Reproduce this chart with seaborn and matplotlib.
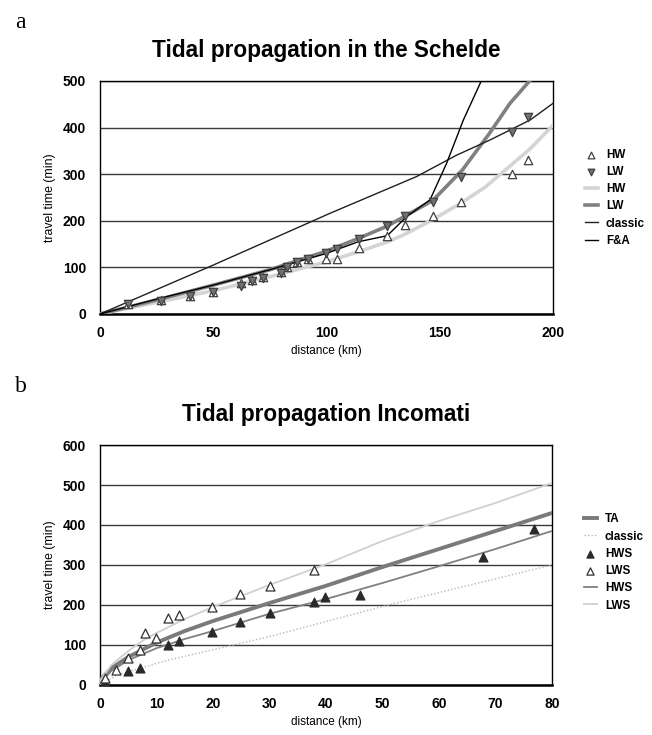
import matplotlib
matplotlib.use("Agg")
import matplotlib.pyplot as plt
import seaborn as sns
import pandas as pd

# ---------------- Panel a: Schelde ----------------
a_obs_km = [12.5, 26.9, 39.7, 49.7, 62.3, 67.3, 71.8, 79.8, 82.4, 86.8, 91.7,
            99.6, 104.5, 114.4, 126.7, 134.7, 146.9, 159.4, 181.7, 189.1]
a_hw_obs = [22, 30, 38, 48, 66, 74, 79, 90, 100, 112, 119,
            119, 119, 141, 168, 191, 211, 240, 300, 330]
a_lw_obs = [22, 28, 38, 48, 60, 70, 78, 88, 100, 112, 119,
            130, 140, 162, 188, 211, 241, 293, 391, 422]

a_hw_line_km = [0, 25, 50, 75, 100, 115, 127, 135, 146, 159, 170, 178, 190, 200]
a_hw_line_tt = [0, 25, 50, 80, 112, 135, 155, 172, 200, 237, 272, 305, 355, 405]

a_lw_line_km = [0, 25, 50, 75, 100, 114, 127, 135, 147, 160, 172, 181, 190, 195]
a_lw_line_tt = [0, 30, 62, 95, 135, 162, 189, 211, 244, 309, 388, 452, 502, 540]

a_classic_km = [0, 50, 101.5, 139.8, 157.5, 172, 189.8, 200]
a_classic_tt = [0, 105, 216, 295, 341, 373, 416, 452]

a_fa_km = [0, 25, 50, 75, 100, 114, 126.8, 135.4, 145.7, 153, 160.4, 168.5, 172]
a_fa_tt = [0, 32, 62, 95, 130, 155, 168, 209, 245, 323, 416, 502, 540]

# ---------------- Panel b: Incomati ----------------
b_hws_km = [0.9, 4.9, 7.1, 12, 14, 19.9, 24.8, 30, 37.9, 39.9, 46, 67.7, 76.8]
b_hws_tt = [8, 36, 42, 100, 110, 133, 158, 179, 208, 219, 226, 321, 390]

b_lws_km = [0.9, 2.9, 5, 7.1, 8, 9.9, 12, 14, 19.9, 24.8, 30, 37.9]
b_lws_tt = [18, 37, 67, 87, 131, 117, 168, 175, 196, 227, 248, 288]

b_ta_km = [0, 2, 5, 10, 15, 20, 30, 40, 50, 60, 70, 80]
b_ta_tt = [12, 42, 70, 106, 135, 160, 205, 248, 295, 340, 385, 430]

b_hws_line_km = [0, 2, 5, 10, 15, 20, 30, 40, 50, 60, 70, 80]
b_hws_line_tt = [5, 35, 62, 92, 115, 135, 178, 215, 255, 297, 340, 385]

b_lws_line_km = [0, 2, 5, 8, 10, 15, 20, 30, 40, 50, 60, 70, 80]
b_lws_line_tt = [10, 50, 85, 115, 130, 165, 195, 250, 302, 360, 410, 455, 505]

b_classic_km = [0, 3, 12, 30, 51, 80]
b_classic_tt = [0, 25, 62, 121, 200, 300]

FONT = "Liberation Sans"
plt.rcParams["font.family"] = [FONT, "DejaVu Sans"]

fig = plt.figure(figsize=(6.52, 7.35), dpi=100)
W, H = 652, 735
def rect(l, t, r, b):
    return [l / W, 1 - b / H, (r - l) / W, (b - t) / H]

ax1 = fig.add_axes(rect(100, 81, 553, 314))
ax2 = fig.add_axes(rect(100, 445, 552, 685))

def df(x, y):
    return pd.DataFrame({"x": x, "y": y})

# ---- panel a
sns.scatterplot(data=df(a_obs_km, a_hw_obs), x="x", y="y", ax=ax1, marker="^", s=36,
                color="white", edgecolor="#404040", linewidth=0.9, label="HW", zorder=5)
sns.scatterplot(data=df(a_obs_km, a_lw_obs), x="x", y="y", ax=ax1, marker="v", s=36,
                color="#707070", edgecolor="#404040", linewidth=0.9, label="LW", zorder=5)
sns.lineplot(data=df(a_hw_line_km, a_hw_line_tt), x="x", y="y", ax=ax1, sort=False,
             estimator=None, color="#d4d4d4", lw=2.6, label="HW", zorder=3)
sns.lineplot(data=df(a_lw_line_km, a_lw_line_tt), x="x", y="y", ax=ax1, sort=False,
             estimator=None, color="#808080", lw=2.6, label="LW", zorder=3)
sns.lineplot(data=df(a_classic_km, a_classic_tt), x="x", y="y", ax=ax1, sort=False,
             estimator=None, color="#202020", lw=1.0, label="classic", zorder=4)
sns.lineplot(data=df(a_fa_km, a_fa_tt), x="x", y="y", ax=ax1, sort=False,
             estimator=None, color="black", lw=1.0, label="F&A", zorder=4)

# ---- panel b
sns.lineplot(data=df(b_ta_km, b_ta_tt), x="x", y="y", ax=ax2, sort=False,
             estimator=None, color="#7a7a7a", lw=2.8, label="TA", zorder=3)
sns.lineplot(data=df(b_classic_km, b_classic_tt), x="x", y="y", ax=ax2, sort=False,
             estimator=None, color="#b8b8b8", lw=1.0, ls=(0, (1, 1.5)), label="classic", zorder=3)
sns.scatterplot(data=df(b_hws_km, b_hws_tt), x="x", y="y", ax=ax2, marker="^", s=42,
                color="#2a2a2a", edgecolor="#2a2a2a", linewidth=0.8, label="HWS", zorder=5)
sns.scatterplot(data=df(b_lws_km, b_lws_tt), x="x", y="y", ax=ax2, marker="^", s=42,
                color="white", edgecolor="#303030", linewidth=0.9, label="LWS", zorder=5)
sns.lineplot(data=df(b_hws_line_km, b_hws_line_tt), x="x", y="y", ax=ax2, sort=False,
             estimator=None, color="#808080", lw=1.3, label="HWS", zorder=3)
sns.lineplot(data=df(b_lws_line_km, b_lws_line_tt), x="x", y="y", ax=ax2, sort=False,
             estimator=None, color="#d0d0d0", lw=1.3, label="LWS", zorder=3)

def style(ax, xmax, xstep, ymax, title, legend_y):
    ax.set_xlim(0, xmax)
    ax.set_ylim(0, ymax)
    ax.set_xticks(range(0, xmax + 1, xstep))
    ax.set_yticks(range(0, ymax + 1, 100))
    ax.yaxis.grid(True, color="#3a3a3a", lw=1.0)
    ax.xaxis.grid(False)
    ax.set_axisbelow(True)
    for sp in ax.spines.values():
        sp.set_color("black")
        sp.set_linewidth(1.0)
        sp.set_visible(True)
    ax.spines["bottom"].set_linewidth(1.8)
    ax.tick_params(axis="both", length=0, labelsize=10)
    ax.tick_params(axis="y", pad=10)
    ax.tick_params(axis="x", pad=8.5)
    for lab in ax.get_xticklabels() + ax.get_yticklabels():
        lab.set_fontweight("bold")
    ax.set_xlabel("distance (km)", fontsize=8.5, labelpad=4)
    ax.set_ylabel("travel time (min)", fontsize=8.8, labelpad=5)
    ax.set_title(title, fontsize=16.3, fontweight="bold", pad=17)
    handles, labels = ax.get_legend_handles_labels()
    ax.legend(handles, labels, loc="upper left", bbox_to_anchor=(1.06, legend_y),
              frameon=False, prop={"weight": "bold", "size": 8.4},
              handlelength=1.1, handletextpad=0.7, labelspacing=0.45,
              borderaxespad=0, markerscale=0.8)

style(ax1, 200, 50, 500, "Tidal propagation in the Schelde", 0.73)
style(ax2, 80, 10, 600, "Tidal propagation Incomati", 0.735)

fig.text(15 / W, 1 - 22 / H, "a", fontsize=17, family="Liberation Serif", va="center")
fig.text(15 / W, 1 - 387 / H, "b", fontsize=17, family="Liberation Serif", va="center")

fig.savefig("out.png", dpi=100, facecolor="white")
